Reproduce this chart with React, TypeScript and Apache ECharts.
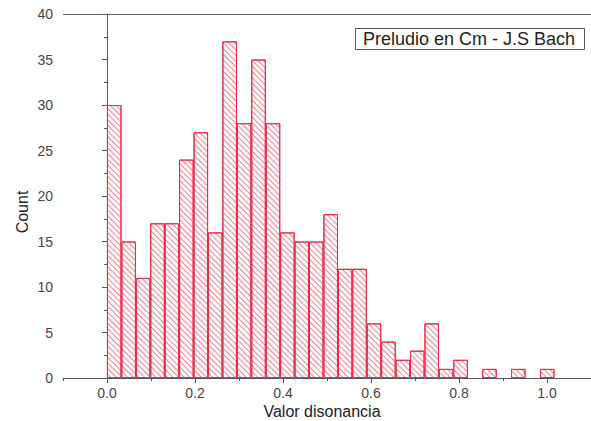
import React, { useEffect, useRef } from "react";
import * as echarts from "echarts";

// Histogram data: bin counts, bins start at 0 with a fixed bin width
const binCounts = [30, 15, 11, 17, 17, 24, 27, 16, 37, 28, 35, 28, 16, 15, 15, 18, 12, 12, 6, 4, 2, 3, 6, 1, 2, 0, 1, 0, 1, 0, 1];
const binWidth = 0.0328;
const xTickValues = [0, 0.2, 0.4, 0.6, 0.8, 1.0];
const xMinorValues = [-0.1, 0.1, 0.3, 0.5, 0.7, 0.9, 1.1];
const legendText = "Preludio en Cm - J.S Bach";
const xName = "Valor disonancia";
const yName = "Count";

export default function App() {
  const ref = useRef<HTMLDivElement>(null);
  useEffect(() => {
    if (!ref.current) return;
    const chart = echarts.init(ref.current, null, { renderer: "svg" });
    const data: any[] = [];
    binCounts.forEach((c, i) => {
      if (c > 0) data.push([(i + 0.5) * binWidth, c]);
    });
    const font = "'Liberation Sans', Arial, sans-serif";
    const axisColor = "#555";
    chart.setOption({
      animation: false,
      backgroundColor: "#fff",
      grid: { left: 63, top: 14, width: 533, height: 364, containLabel: false },
      xAxis: [
        {
          type: "value",
          min: -0.1,
          max: 1.1,
          axisLine: { show: true, onZero: false, lineStyle: { color: axisColor, width: 1 } },
          axisTick: { show: true, inside: false, length: 5, customValues: xTickValues, lineStyle: { color: axisColor } },
          axisLabel: {
            customValues: xTickValues,
            formatter: (v: number) => v.toFixed(1),
            color: "#444",
            fontFamily: font,
            fontSize: 14,
            margin: 8,
          },
          splitLine: { show: false },
        },
        {
          type: "value",
          min: -0.1,
          max: 1.1,
          position: "bottom",
          axisLine: { show: false },
          axisTick: { show: true, length: 3, customValues: xMinorValues, lineStyle: { color: axisColor } },
          axisLabel: { show: false },
          splitLine: { show: false },
        },
      ],
      yAxis: {
        type: "value",
        min: 0,
        max: 40,
        interval: 5,
        axisLine: { show: true, lineStyle: { color: axisColor, width: 1 } },
        axisTick: { show: true, inside: false, length: 5, lineStyle: { color: axisColor } },
        minorTick: { show: true, splitNumber: 2, length: 3, lineStyle: { color: axisColor } },
        axisLabel: { color: "#444", fontFamily: font, fontSize: 14, margin: 10 },
        splitLine: { show: false },
      },
      series: [
        {
          type: "bar",
          xAxisIndex: 0,
          data,
          barWidth: binWidth * 444,
          itemStyle: {
            color: "#ffffff",
            borderColor: "#ee2a46",
            borderWidth: 1,
            decal: {
              symbol: "rect",
              symbolSize: 1,
              dashArrayX: [1, 0],
              dashArrayY: [1, 3],
              rotation: Math.PI / 4,
              color: "rgba(238,70,90,0.7)",
            },
          },
        },
      ],
      graphic: [
        { type: "line", shape: { x1: 63, y1: 14.5, x2: 591, y2: 14.5 }, style: { stroke: "#666", lineWidth: 1 } },
        { type: "rect", shape: { x: 355.5, y: 28.5, width: 229, height: 21 }, style: { fill: "#fff", stroke: "#555", lineWidth: 1 } },
        {
          type: "text",
          x: 469,
          y: 39,
          style: { text: legendText, fill: "#222", font: `18px ${font}`, align: "center", verticalAlign: "middle" },
        },
        {
          type: "text",
          x: 322,
          y: 411,
          style: { text: xName, fill: "#222", font: `16px ${font}`, align: "center", verticalAlign: "middle" },
        },
        {
          type: "text",
          x: 22,
          y: 212,
          rotation: Math.PI / 2,
          style: { text: yName, fill: "#222", font: `16px ${font}`, align: "center", verticalAlign: "middle" },
        },
      ],
    });
    return () => chart.dispose();
  }, []);
  return <div ref={ref} style={{ position: "absolute", left: 0, top: 0, width: 591, height: 421 }} />;
}
